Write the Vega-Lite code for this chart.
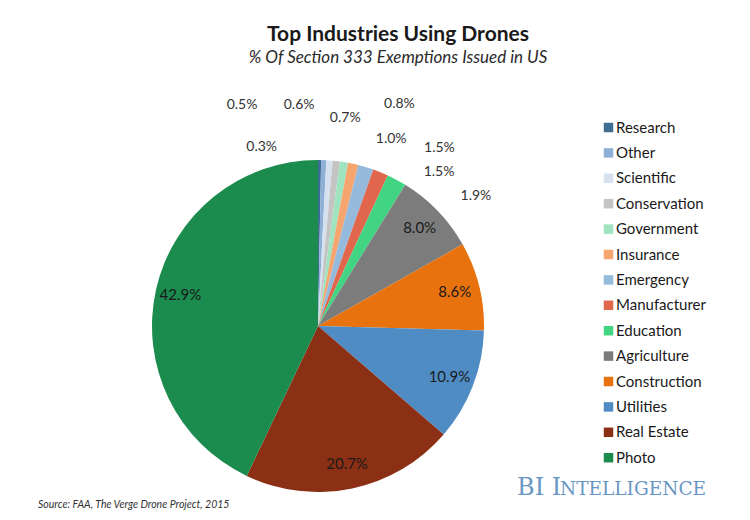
{
  "$schema": "https://vega.github.io/schema/vega-lite/v6.json",
  "autosize": {"type": "none"},
  "width": 332,
  "height": 332,
  "padding": {"left": 152, "top": 160, "right": 266, "bottom": 28},
  "background": "white",
  "config": {"view": {"stroke": null}, "font": "Lato"},
  "title": {
    "text": "Top Industries Using Drones",
    "subtitle": "% Of Section 333 Exemptions Issued in US",
    "anchor": "middle",
    "frame": "group",
    "dx": 80,
    "offset": 29,
    "font": "Lato",
    "fontSize": 21,
    "fontWeight": "bold",
    "color": "#1a1a1a",
    "subtitleFont": "Lato",
    "subtitleFontSize": 17,
    "subtitleFontStyle": "italic",
    "subtitleColor": "#2a2a2a",
    "subtitlePadding": 5
  },
  "data": {
    "values": [
      {"industry": "Research", "value": 0.3, "label": "0.3%"},
      {"industry": "Other", "value": 0.5, "label": "0.5%"},
      {"industry": "Scientific", "value": 0.6, "label": "0.6%"},
      {"industry": "Conservation", "value": 0.7, "label": "0.7%"},
      {"industry": "Government", "value": 0.8, "label": "0.8%"},
      {"industry": "Insurance", "value": 1.0, "label": "1.0%"},
      {"industry": "Emergency", "value": 1.5, "label": "1.5%"},
      {"industry": "Manufacturer", "value": 1.5, "label": "1.5%"},
      {"industry": "Education", "value": 1.9, "label": "1.9%"},
      {"industry": "Agriculture", "value": 8.0, "label": "8.0%"},
      {"industry": "Construction", "value": 8.6, "label": "8.6%"},
      {"industry": "Utilities", "value": 10.9, "label": "10.9%"},
      {"industry": "Real Estate", "value": 20.7, "label": "20.7%"},
      {"industry": "Photo", "value": 42.9, "label": "42.9%"}
    ]
  },
  "layer": [
    {
      "mark": {"type": "arc", "outerRadius": 166},
      "encoding": {
        "theta": {"field": "value", "type": "quantitative", "stack": true},
        "order": {"field": "value", "type": "quantitative", "sort": "ascending"},
        "color": {
          "field": "industry",
          "type": "nominal",
          "scale": {
            "domain": ["Research", "Other", "Scientific", "Conservation", "Government", "Insurance", "Emergency", "Manufacturer", "Education", "Agriculture", "Construction", "Utilities", "Real Estate", "Photo"],
            "range": ["#3f6e94", "#8fb0d6", "#d5e1ee", "#c4c4c4", "#9fe3bf", "#f5a56d", "#96badb", "#e0674b", "#41d583", "#7c7c7c", "#e8730e", "#4f8cc4", "#8b2f15", "#1b8b4e"]
          },
          "legend": {
            "orient": "none",
            "legendX": 449,
            "legendY": -40,
            "title": null,
            "symbolType": "square",
            "symbolSize": 90,
            "symbolStrokeWidth": 0,
            "symbolOpacity": 1,
            "labelFont": "Lato",
            "labelFontSize": 15,
            "labelColor": "#1a1a1a",
            "labelOffset": 0,
            "rowPadding": 9.4,
            "padding": 0
          }
        }
      }
    },
    {
      "mark": {"type": "text", "radius": 141, "fontSize": 15, "color": "#1a1a1a", "align": "center", "baseline": "middle"},
      "encoding": {
        "theta": {"field": "value", "type": "quantitative", "stack": true},
        "order": {"field": "value", "type": "quantitative", "sort": "ascending"},
        "text": {"condition": {"test": "datum.value < 5", "value": ""}, "field": "label"}
      }
    },
    {
      "mark": {"type": "text", "radius": 175, "dx": -58, "dy": -4, "fontSize": 14, "color": "#333333", "align": "center", "baseline": "middle"},
      "encoding": {
        "theta": {"field": "value", "type": "quantitative", "stack": true},
        "order": {"field": "value", "type": "quantitative", "sort": "ascending"},
        "text": {"condition": {"test": "datum.industry === 'Research'", "field": "label"}, "value": ""}
      }
    },
    {
      "mark": {"type": "text", "radius": 175, "dx": -82, "dy": -46, "fontSize": 14, "color": "#333333", "align": "center", "baseline": "middle"},
      "encoding": {
        "theta": {"field": "value", "type": "quantitative", "stack": true},
        "order": {"field": "value", "type": "quantitative", "sort": "ascending"},
        "text": {"condition": {"test": "datum.industry === 'Other'", "field": "label"}, "value": ""}
      }
    },
    {
      "mark": {"type": "text", "radius": 175, "dx": -31, "dy": -46, "fontSize": 14, "color": "#333333", "align": "center", "baseline": "middle"},
      "encoding": {
        "theta": {"field": "value", "type": "quantitative", "stack": true},
        "order": {"field": "value", "type": "quantitative", "sort": "ascending"},
        "text": {"condition": {"test": "datum.industry === 'Scientific'", "field": "label"}, "value": ""}
      }
    },
    {
      "mark": {"type": "text", "radius": 175, "dx": 8, "dy": -34, "fontSize": 14, "color": "#333333", "align": "center", "baseline": "middle"},
      "encoding": {
        "theta": {"field": "value", "type": "quantitative", "stack": true},
        "order": {"field": "value", "type": "quantitative", "sort": "ascending"},
        "text": {"condition": {"test": "datum.industry === 'Conservation'", "field": "label"}, "value": ""}
      }
    },
    {
      "mark": {"type": "text", "radius": 175, "dx": 54, "dy": -49, "fontSize": 14, "color": "#333333", "align": "center", "baseline": "middle"},
      "encoding": {
        "theta": {"field": "value", "type": "quantitative", "stack": true},
        "order": {"field": "value", "type": "quantitative", "sort": "ascending"},
        "text": {"condition": {"test": "datum.industry === 'Government'", "field": "label"}, "value": ""}
      }
    },
    {
      "mark": {"type": "text", "radius": 175, "dx": 36, "dy": -16, "fontSize": 14, "color": "#333333", "align": "center", "baseline": "middle"},
      "encoding": {
        "theta": {"field": "value", "type": "quantitative", "stack": true},
        "order": {"field": "value", "type": "quantitative", "sort": "ascending"},
        "text": {"condition": {"test": "datum.industry === 'Insurance'", "field": "label"}, "value": ""}
      }
    },
    {
      "mark": {"type": "text", "radius": 175, "dx": 71, "dy": -10, "fontSize": 14, "color": "#333333", "align": "center", "baseline": "middle"},
      "encoding": {
        "theta": {"field": "value", "type": "quantitative", "stack": true},
        "order": {"field": "value", "type": "quantitative", "sort": "ascending"},
        "text": {"condition": {"test": "datum.industry === 'Emergency'", "field": "label"}, "value": ""}
      }
    },
    {
      "mark": {"type": "text", "radius": 175, "dx": 55, "dy": 8, "fontSize": 14, "color": "#333333", "align": "center", "baseline": "middle"},
      "encoding": {
        "theta": {"field": "value", "type": "quantitative", "stack": true},
        "order": {"field": "value", "type": "quantitative", "sort": "ascending"},
        "text": {"condition": {"test": "datum.industry === 'Manufacturer'", "field": "label"}, "value": ""}
      }
    },
    {
      "mark": {"type": "text", "radius": 175, "dx": 75, "dy": 24, "fontSize": 14, "color": "#333333", "align": "center", "baseline": "middle"},
      "encoding": {
        "theta": {"field": "value", "type": "quantitative", "stack": true},
        "order": {"field": "value", "type": "quantitative", "sort": "ascending"},
        "text": {"condition": {"test": "datum.industry === 'Education'", "field": "label"}, "value": ""}
      }
    },
    {
      "data": {"values": [{"note": "Source: FAA, The Verge Drone Project, 2015"}]},
      "mark": {"type": "text", "x": -114, "y": 345, "align": "left", "baseline": "middle", "font": "Lato", "fontSize": 10.5, "fontStyle": "italic", "color": "#333333"},
      "encoding": {"text": {"field": "note"}}
    },
    {
      "data": {"values": [{"brand": "BI I"}]},
      "mark": {"type": "text", "x": 365, "y": 335, "align": "left", "baseline": "alphabetic", "font": "DejaVu Serif", "fontSize": 24, "color": "#6897c4"},
      "encoding": {"text": {"field": "brand"}}
    },
    {
      "data": {"values": [{"brand": "NTELLIGENCE"}]},
      "mark": {"type": "text", "x": 408, "y": 335, "align": "left", "baseline": "alphabetic", "font": "DejaVu Serif", "fontSize": 18.5, "color": "#6897c4"},
      "encoding": {"text": {"field": "brand"}}
    }
  ]
}
